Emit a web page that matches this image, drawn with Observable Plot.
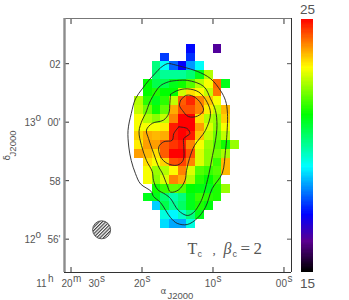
<!DOCTYPE html>
<html>
<head>
<meta charset="utf-8">
<script src="https://cdn.jsdelivr.net/npm/d3@7"></script>
<script src="https://cdn.jsdelivr.net/npm/@observablehq/plot@0.6"></script>
<style>
html,body{margin:0;padding:0;background:#fff;}
#wrap{position:relative;width:349px;height:300px;overflow:hidden;}
#wrap svg{position:absolute;left:0;top:0;max-width:none;background:transparent;}
</style>
</head>
<body>
<div id="wrap"></div>
<script>
// Temperature map, one row per 18" in declination, north first; one column per 18" in RA, east first.
const _ = null;
const tempRows = [
  [_,_,_,_,_,_,17.3,_,_,16.3],
  [_,_,_,17.7,_,_,17.6],
  [_,_,20.2,19.2,18,17.2,18.4,19.2],
  [_,_,20.3,20,20,20,20.3,21,22.5],
  [_,21.2,20.6,20.6,21,21.3,21.8,22.5,23,24.2,21],
  [_,21.2,21.4,21.2,21.2,22.7,23.3,23.1,22.6,24.1],
  [22.5,21.5,21,21.5,22.6,24.3,24.7,24,23.5,23],
  [22.6,22,21.3,21.9,23.7,24.4,24.4,24,23.2,22.6,23.6],
  [23,22.5,22.2,22.6,24,25,25,23.3,22.5,22.3,23.4],
  [23,23,23,23.2,24.8,25,25,23.8,22.8,22.2,23],
  [23.4,23.7,23.6,23.7,24.8,25,24.8,23.5,22.6,22,22.6],
  [23.2,23.8,23.8,24.3,24.6,24.8,24,23,22.3,21.8,21.3,22.3],
  [23.8,23.6,23.3,24.3,25,25,24.4,22.8,22.2,22,22.4],
  [_,23.3,23,23.4,24.4,24.5,24,22.8,22.2,21.6,23.6],
  [_,23,22.3,22.5,23.1,24,22.8,21.8,21.6,21.8,23.6],
  [_,23,22.2,22.8,24,23.7,22.5,21.5,21.2,21.6],
  [_,_,21.3,21.6,21.9,21.8,21.2,21.1,21,21.4,22.3],
  [_,21,21,20.3,19.8,20.2,21,21.6,21.5,21.4],
  [_,_,18.8,20.6,20,20.4,21,21.4,21.1],
  [_,_,_,19.4,19.1,19.6,20.2,21],
  [_,_,_,18.9,18.5,18.5,19.4]
];
// Contours as [RA seconds after 11h20m, Dec arcmin from 13d00']
const contourOuter = [[15.99,2.00],[14.11,1.88],[12.23,1.74],[10.35,1.49],[8.94,1.08],[8.24,.74],[7.96,.30],[8.10,-.63],[8.24,-.97],[8.70,-1.75],[10.11,-2.27],[11.06,-2.91],[12.23,-3.29],[13.63,-3.50],[15.04,-3.46],[15.99,-3.26],[17.39,-2.75],[18.38,-2.54],[18.70,-2.37],[20.21,-2.11],[20.92,-1.76],[21.52,-1.31],[21.86,-.85],[21.97,-.28],[21.52,.29],[20.92,.80],[19.97,1.14],[19.04,1.43],[18.10,1.68],[17.39,1.86],[16.45,2.00],[15.99,2.00]];
const contourSecond = [[15.99,1.40],[13.63,1.43],[11.30,1.22],[10.35,.80],[9.65,.40],[9.44,-.11],[9.65,-.63],[10.07,-1.14],[10.59,-1.79],[11.30,-2.45],[11.76,-2.74],[12.75,-3.09],[13.63,-3.19],[14.86,-3.02],[15.99,-2.61],[16.69,-2.47],[17.82,-2.30],[18.38,-1.99],[18.56,-1.69],[19.37,-1.31],[20.07,-.80],[20.42,-.32],[19.97,.07],[19.51,.29],[18.80,.74],[17.39,1.25],[15.99,1.40]];
const contourThird = [[15.99,.95],[15.04,1.08],[13.63,1.14],[12.00,1.03],[10.82,.68],[10.35,.29],[11.06,-.28],[12.61,-.80],[13.31,-1.24],[13.73,-1.65],[13.94,-1.99],[14.82,-2.31],[15.99,-2.39],[16.45,-2.16],[17.15,-1.74],[17.63,-1.54],[18.34,-1.08],[19.08,-.56],[19.37,-.27],[18.56,-.04],[16.97,.07],[16.23,.30],[16.08,.64],[15.99,.95]];
const contourPeakNorth = [[14.58,.74],[13.87,.91],[13.03,.91],[12.18,.78],[11.62,.61],[11.34,.40],[12.18,.21],[13.45,.19],[14.30,.40],[14.72,.57],[14.58,.74]];
const contourPeakSouth = [[14.82,-.16],[13.63,-.22],[13.27,-.39],[14.11,-.56],[14.11,-.84],[14.20,-1.30],[15.04,-1.47],[16.45,-1.41],[17.39,-1.18],[17.63,-.84],[16.93,-.67],[15.75,-.62],[15.52,-.39],[14.82,-.16]];
const contours = [contourOuter, contourSecond, contourThird, contourPeakNorth, contourPeakSouth];

const raTicks = [30, 20, 10, 0];
const raLabels = ["30", "20", "10", "00"];
const decTicks = [2, 0, -2, -4];
const decLabels = ["02", "00'", "58", "56'"];
const decDegrees = [{dec: 0, deg: "13"}, {dec: -4, deg: "12"}];

const barRange = [15, 25];
const colorStops = [15, 16.2, 17.25, 19.15, 21.2, 23.06, 25];
const colorRamp = ["#000000", "#5a0090", "#0000ff", "#00ffff", "#00ff00", "#ffff00", "#ff0000"];

const raStart = 21.056, raStep = 1.232, decStart = 2.656, decStep = 0.2991;
const xDomain = [30.92, -1.06], yDomain = [-5.14, 3.545];
const beam = {ra: 25.69, dec: -3.68};

const cells = tempRows.flatMap((row, j) => row.map((v, i) => ({
  v,
  x1: raStart - i * raStep, x2: raStart - (i + 1) * raStep,
  y1: decStart - j * decStep, y2: decStart - (j + 1) * decStep
}))).filter(d => d.v !== null);

const color = {type: "linear", domain: colorStops, range: colorRamp, interpolate: "rgb"};
const sans = "Liberation Sans, Arial, sans-serif";
const ink = "#555";

function part(text, x, y, o = {}) {
  return Plot.text([text], {
    x: () => x, y: () => y, text: d => d,
    fontSize: 10, fill: ink, fontFamily: sans,
    lineAnchor: "bottom", clip: false, ...o
  });
}
const hatch = () => {
  const defs = d3.create("svg:defs");
  const p = defs.append("pattern").attr("id", "hatch").attr("patternUnits", "userSpaceOnUse")
    .attr("width", 2.4).attr("height", 2.4).attr("patternTransform", "rotate(-45)");
  p.append("rect").attr("width", 2.4).attr("height", 2.4).attr("fill", "#fff");
  p.append("line").attr("x1", 0).attr("x2", 2.4).attr("y1", 0.6).attr("y2", 0.6)
    .attr("stroke", "#333").attr("stroke-width", 1.1);
  return defs.node();
};

const left = xDomain[0], right = xDomain[1], bottom = yDomain[0], top_ = yDomain[1];

const main = Plot.plot({
  width: 349, height: 300,
  marginLeft: 64, marginRight: 58, marginTop: 18, marginBottom: 28,
  x: {domain: xDomain}, y: {domain: yDomain},
  color,
  style: {background: "transparent", fontFamily: sans},
  marks: [
    hatch,
    Plot.rect(cells, {x1: "x1", x2: "x2", y1: "y1", y2: "y2", fill: "v", shapeRendering: "crispEdges"}),
    ...contours.map(c => Plot.line(c, {x: d => d[0], y: d => d[1], stroke: "#222", strokeWidth: 0.9, curve: "catmull-rom"})),
    Plot.dot([beam], {x: "ra", y: "dec", r: 9, fill: "url(#hatch)", stroke: "#555", strokeWidth: 1}),
    Plot.axisX({ticks: raTicks, anchor: "bottom", tickSize: -5, stroke: "#333", fill: "none", label: null}),
    Plot.axisX({ticks: raTicks, anchor: "top", tickSize: -5, stroke: "#333", fill: "none", label: null}),
    Plot.axisY({ticks: decTicks, anchor: "left", tickSize: -5, stroke: "#333", fill: "none", label: null}),
    Plot.axisY({ticks: decTicks, anchor: "right", tickSize: -5, stroke: "#555", fill: "none", label: null}),
    Plot.ruleY([bottom], {stroke: "#333", strokeWidth: 1}),
    Plot.ruleY([top_], {stroke: "#777", strokeWidth: 1.2}),
    Plot.ruleX([right], {stroke: "#333", strokeWidth: 1}),
    Plot.ruleX([left], {stroke: "#8c8c8c", strokeWidth: 2.4}),
    // RA tick labels: the first tick also carries the hours and minutes, spread out to its left and right
    ...raTicks.flatMap((t, i) => [
      part(raLabels[i], t, bottom, {textAnchor: "end", dx: i === 0 ? 28.5 : 3, dy: 14}),
      part("s", t, bottom, {textAnchor: "start", dx: i === 0 ? 29 : 3.5, dy: 9})
    ]),
    part("20", 30, bottom, {textAnchor: "end", dx: 1.5, dy: 14}),
    part("m", 30, bottom, {textAnchor: "start", dx: 2, dy: 9}),
    part("11", 30, bottom, {textAnchor: "end", dx: -24.5, dy: 14}),
    part("h", 30, bottom, {textAnchor: "start", dx: -23, dy: 9}),
    // Dec tick labels
    ...decTicks.map((t, i) => part(decLabels[i], left, t, {textAnchor: "end", dx: -4, dy: 4})),
    ...decDegrees.flatMap(d => [
      part(d.deg, left, d.dec, {textAnchor: "end", dx: -29, dy: 4}),
      part("o", left, d.dec, {textAnchor: "start", dx: -29, dy: -1})
    ]),
    // annotation
    part("T", 13.59, -4.52, {textAnchor: "start", fontFamily: "Liberation Serif", fontSize: 16}),
    part("c", 13.59, -4.52, {textAnchor: "start", dx: 10, dy: 3, fontSize: 9}),
    part(",", 13.59, -4.52, {textAnchor: "start", dx: 25, fontFamily: "Liberation Serif", fontSize: 13}),
    part("\u03b2", 13.59, -4.52, {textAnchor: "start", dx: 36, fontFamily: "Liberation Serif", fontStyle: "italic", fontSize: 16}),
    part("c", 13.59, -4.52, {textAnchor: "start", dx: 45, dy: 3, fontSize: 9}),
    part("=", 13.59, -4.52, {textAnchor: "start", dx: 53, fontFamily: "Liberation Serif", fontSize: 17}),
    part("2", 13.59, -4.52, {textAnchor: "start", dx: 66, fontFamily: "Liberation Serif", fontSize: 17}),
    // axis titles
    part("\u03b1", 17.4, bottom, {textAnchor: "start", dy: 21, fontFamily: "DejaVu Sans", fontSize: 9}),
    part("J2000", 17.4, bottom, {textAnchor: "start", dx: 7, dy: 26, fontSize: 9.5}),
    part("\u03b4", left, -1.17, {textAnchor: "start", rotate: -90, dx: -55, dy: 4, fontFamily: "DejaVu Sans", fontSize: 9}),
    part("J2000", left, -1.17, {textAnchor: "start", rotate: -90, dx: -49, dy: 0, fontSize: 9.5})
  ]
});

const barValues = d3.range(barRange[0], barRange[1], 0.05);
const bar = Plot.plot({
  width: 349, height: 300,
  marginLeft: 301, marginRight: 36, marginTop: 19, marginBottom: 28,
  x: {domain: [0, 1], axis: null},
  y: {domain: barRange, axis: null},
  color,
  style: {background: "transparent", fontFamily: sans},
  marks: [
    Plot.rect(barValues, {x1: () => 0, x2: () => 1, y1: d => d, y2: d => d + 0.05, fill: d => d, shapeRendering: "crispEdges"}),
    Plot.text([barRange[1]], {x: () => 0.5, y: d => d, text: d => String(d), dy: -6, lineAnchor: "bottom", fontSize: 13.5, fill: ink, fontFamily: sans}),
    Plot.text([barRange[0]], {x: () => 0.5, y: d => d, text: d => String(d), dy: 15, lineAnchor: "bottom", fontSize: 13.5, fill: ink, fontFamily: sans})
  ]
});

const wrap = document.getElementById("wrap");
wrap.append(main, bar);
</script>
</body>
</html>
